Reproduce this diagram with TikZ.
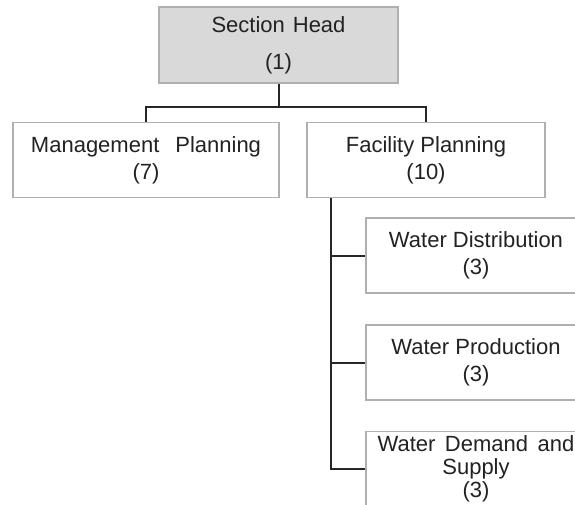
\documentclass[tikz,border=0pt]{standalone}
\usepackage{fontspec}
\setmainfont{Liberation Sans}
\definecolor{boxline}{HTML}{B0B0B0}
\definecolor{headfill}{HTML}{D9D9D9}
\definecolor{ink}{HTML}{222222}
\definecolor{wire}{HTML}{262626}
\begin{document}
\begin{tikzpicture}[x=1pt,y=-1pt,
  unit/.style={draw=boxline,line width=1.4pt,fill=white,text=ink,
    align=center,inner sep=0pt,minimum height=75pt,
    font=\fontsize{22}{27}\selectfont},
  headunit/.style={unit,fill=headfill,font=\fontsize{22}{37}\selectfont},
  wire/.style={draw=wire,line width=2pt}]
\useasboundingbox (0,0) rectangle (575,504);
\begin{scope}
\clip (0,0) rectangle (575,504);
% boxes
\node[headunit,minimum width=239pt,minimum height=76pt] (head) at (278.5,45) {Section\hspace{8pt}Head\\(1)};
\node[unit,minimum width=266pt] (mgmt) at (146,160) {Management\hspace{16pt}Planning\\(7)};
\node[unit,minimum width=238pt] (fac) at (426,160) {Facility Planning\\(10)};
\node[unit,minimum width=220pt] (wd) at (476,255.5) {Water Distribution\\(3)};
\node[unit,minimum width=220pt] (wp) at (476,362.5) {Water Production\\(3)};
\node[unit,minimum width=220pt,font=\fontsize{22}{23}\selectfont] (wds) at (476,469) {Water\hspace{9.5pt}Demand\hspace{9.5pt}and\\Supply\\(3)};
% tree connectors
\coordinate (split) at (278.5,107);
\draw[wire] (head.south) -- (split);
\draw[wire] (mgmt.north) |- (split) -| (fac.north);
\coordinate (trunk) at ([xshift=25pt]fac.south west);
\draw[wire] (trunk) |- (wds.west);
\draw[wire] (trunk |- wd.west) -- (wd.west);
\draw[wire] (trunk |- wp.west) -- (wp.west);
\end{scope}
\end{tikzpicture}
\end{document}
